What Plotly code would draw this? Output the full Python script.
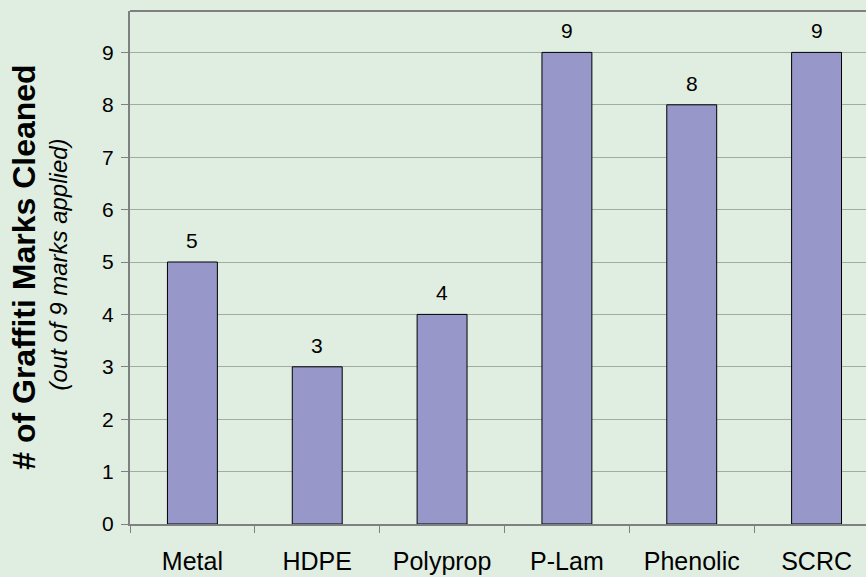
import plotly.graph_objects as go

# Graffiti removal results per surface material
materials = ["Metal", "HDPE", "Polyprop", "P-Lam", "Phenolic", "SCRC"]
marks_cleaned = [5, 3, 4, 9, 8, 9]
y_ticks = [0, 1, 2, 3, 4, 5, 6, 7, 8, 9]

BG = "#dfeee0"
BAR = "#9797c9"
AXIS = "#808080"
GRID = "#a3aba3"
FONT = "Arial, Liberation Sans, sans-serif"

fig = go.Figure(
    go.Bar(
        x=materials,
        y=marks_cleaned,
        width=0.4,
        marker=dict(color=BAR, line=dict(color="#000000", width=1)),
        hoverinfo="x+y",
    )
)

# value labels above each bar
for m, v in zip(materials, marks_cleaned):
    fig.add_annotation(
        x=m, y=v, text=str(v), showarrow=False,
        yanchor="bottom", yshift=8,
        font=dict(family=FONT, size=21, color="#000000"),
    )

# rotated axis titles
fig.add_annotation(
    xref="paper", yref="paper", x=-0.145, y=0.5,
    text="<b># of Graffiti Marks Cleaned</b>", textangle=-90,
    showarrow=False, xanchor="center", yanchor="middle",
    font=dict(family=FONT, size=32, color="#000000"),
)
fig.add_annotation(
    xref="paper", yref="paper", x=-0.097, y=0.505,
    text="<i>(out of 9 marks applied)</i>", textangle=-90,
    showarrow=False, xanchor="center", yanchor="middle",
    font=dict(family=FONT, size=24, color="#000000"),
)

# top border of the plot frame
fig.add_shape(
    type="line", xref="paper", yref="paper",
    x0=0, x1=1, y0=1, y1=1,
    line=dict(color=AXIS, width=2),
)

fig.update_layout(
    width=866, height=577,
    margin=dict(l=130, r=0, t=11, b=53),
    paper_bgcolor=BG, plot_bgcolor=BG,
    showlegend=False,
    font=dict(family=FONT, color="#000000"),
    xaxis=dict(
        type="category",
        range=[-0.5, 5.396],
        tickson="boundaries",
        ticks="outside", ticklen=7, tickcolor=AXIS, tickwidth=1,
        showline=True, linecolor=AXIS, linewidth=2,
        showgrid=False, zeroline=False,
        tickfont=dict(family=FONT, size=25, color="#000000"),
        ticklabelstandoff=14,
    ),
    yaxis=dict(
        range=[0, 9.79],
        tickvals=y_ticks,
        ticks="outside", ticklen=7, tickcolor=AXIS, tickwidth=1,
        showline=True, linecolor=AXIS, linewidth=2,
        showgrid=True, gridcolor=GRID, gridwidth=1,
        zeroline=False,
        tickfont=dict(family=FONT, size=21, color="#000000"),
        ticklabelstandoff=3,
    ),
)

fig.write_html("out.html")
